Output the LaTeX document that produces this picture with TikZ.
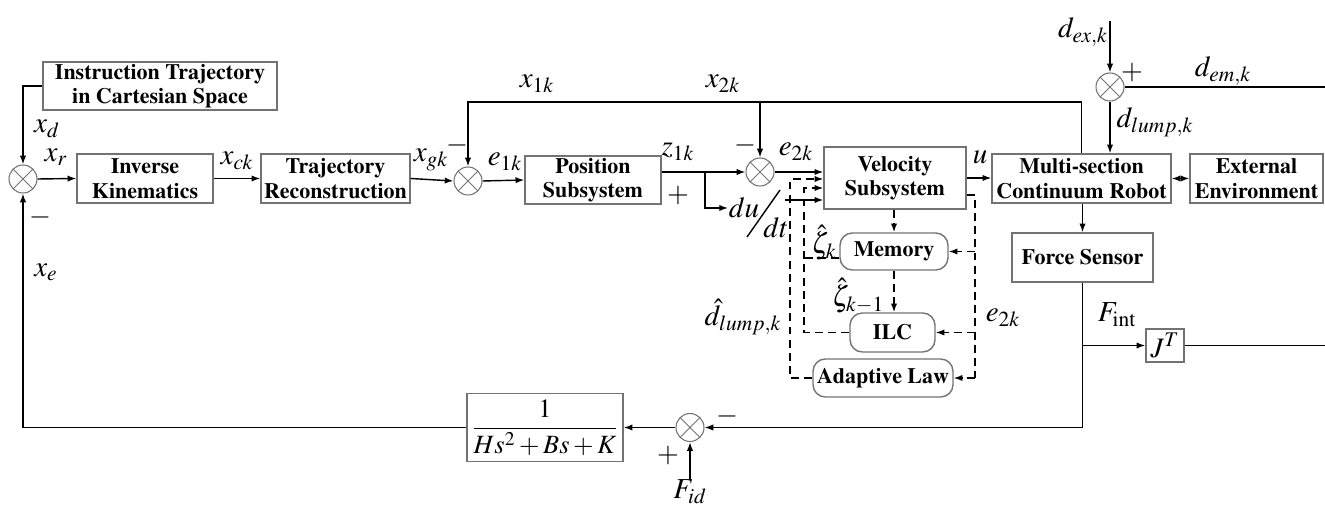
\documentclass[tikz,border=0pt]{standalone}
\usepackage[T1]{fontenc}
\usepackage{mathptmx}
\usetikzlibrary{arrows.meta}
\begin{document}
\begin{tikzpicture}[x=0.02cm,y=-0.02cm,
  line width=0.8pt,
  arr/.style={-{Latex[length=5pt,width=3.6pt]}},
  arr2/.style={{Latex[length=5pt,width=3.6pt]}-{Latex[length=5pt,width=3.6pt]}},
  darr/.style={dashed,dash pattern=on 4.5pt off 3pt,-{Latex[length=5pt,width=3.6pt]}},
  dsh/.style={dashed,dash pattern=on 4.5pt off 3pt},
  blk/.style={draw=black!55, line width=0.8pt, inner sep=0pt, align=center,
    font=\fontfamily{ptm}\bfseries\fontsize{12.5}{14}\selectfont},
  rblk/.style={blk, rounded corners=7pt},
  sum/.style={circle, draw=black!55, line width=0.6pt, minimum size=0.56cm, inner sep=0pt,
    path picture={\draw[black!55, line width=0.5pt]
      (path picture bounding box.north west) -- (path picture bounding box.south east)
      (path picture bounding box.north east) -- (path picture bounding box.south west);}},
  lbl/.style={inner sep=0pt, font=\fontsize{16.5}{18}\selectfont},
  sgn/.style={inner sep=0pt, font=\fontsize{16}{18}\selectfont}
]
\useasboundingbox (0,0) rectangle (1325,509);

% blocks
\node[blk, minimum width=4.68cm, minimum height=0.96cm] (instr) at (160,86) {Instruction Trajectory\\in Cartesian Space};
\node[blk, minimum width=2.72cm, minimum height=0.98cm] (ik) at (145,178.5) {Inverse\\Kinematics};
\node[blk, minimum width=2.98cm, minimum height=0.98cm] (tr) at (335.5,178.5) {Trajectory\\Reconstruction};
\node[blk, minimum width=2.72cm, minimum height=0.96cm] (pos) at (593,180) {Position\\Subsystem};
\node[blk, minimum width=2.84cm, minimum height=1.24cm] (vel) at (895,178) {Velocity\\Subsystem};
\node[rblk, minimum width=2.16cm, minimum height=0.74cm] (mem) at (894,251.5) {Memory};
\node[rblk, minimum width=1.70cm, minimum height=0.78cm] (ilc) at (892.5,332.5) {ILC};
\node[rblk, minimum width=2.80cm, minimum height=0.76cm] (ada) at (883,378) {Adaptive Law};
\node[blk, minimum width=3.58cm, minimum height=0.98cm] (robot) at (1081.5,178.5) {Multi-section\\Continuum Robot};
\node[blk, minimum width=2.66cm, minimum height=0.98cm] (env) at (1256.5,178.5) {External\\Environment};
\node[blk, minimum width=2.82cm, minimum height=0.98cm] (force) at (1082.5,257.5) {Force Sensor};
\node[blk, minimum width=0.76cm, minimum height=0.66cm, font=\fontsize{16}{18}\selectfont] (jt) at (1165,345.5) {$J^{T}$};
\node[blk, minimum width=3.12cm, minimum height=1.36cm, font=\fontsize{15}{18}\selectfont] (tf) at (545,427.5) {$\displaystyle\frac{1}{Hs^{2}+Bs+K}$};

% junctions
\node[sum] (s1) at (23,179) {};
\node[sum] (s2) at (468,181) {};
\node[sum] (s3) at (760,172) {};
\node[sum] (s4) at (1110,87) {};
\node[sum] (s5) at (690,427.5) {};

% helper coordinates
\coordinate (t1) at (468,102);
\coordinate (t2) at (760,102);
\coordinate (br) at (705,172);
\coordinate (dto) at (785,200);
\coordinate (o1) at (790,378);
\coordinate (o2) at (790,179);
\coordinate (i1) at (804,332.5);
\coordinate (i2) at (804,188);
\coordinate (m1) at (804,258);
\coordinate (r0) at (975,195);
\coordinate (r1) at (975,378);
\coordinate (dex) at (1110,21);
\coordinate (dem) at (1325,87);
\coordinate (jend) at (1325,345.5);

% labels
\node[lbl] (xd) at (47,129) {$x_{d}$};
\node[lbl] (xr) at (56,157) {$x_{r}$};
\node[sgn] (m1s) at (40,217) {$-$};
\node[lbl] (xe) at (46,272) {$x_{e}$};
\node[lbl] (xck) at (237,161) {$x_{ck}$};
\node[lbl] (xgk) at (431,160) {$x_{gk}$};
\node[sgn] (m2s) at (457,145) {$-$};
\node[lbl] (e1k) at (505,162) {$e_{1k}$};
\node[lbl] (x1k) at (537,84) {$x_{1k}$};
\node[lbl] (x2k) at (723,84) {$x_{2k}$};
\node[lbl] (z1k) at (678,152) {$z_{1k}$};
\node[sgn] (p1s) at (678,195) {$+$};
\node[sgn] (m3s) at (745,145) {$-$};
\node[lbl] (e2k) at (796,152) {$e_{2k}$};
\node[lbl] (du) at (744,208) {$du$};
\node[lbl] (dt) at (776,228) {$dt$};
\node[lbl] (u) at (980,157) {$u$};
\node[lbl] (zk) at (824,243) {$\hat{\zeta}_{k}$};
\node[lbl] (zk1) at (858,296) {$\hat{\zeta}_{k-1}$};
\node[lbl] (dlh) at (743,317) {$\hat{d}_{lump,k}$};
\node[lbl] (e2kr) at (1003,318) {$e_{2k}$};
\node[lbl] (fint) at (1117,315) {$F_{\mathrm{int}}$};
\node[lbl] (dexl) at (1083,32) {$d_{ex,k}$};
\node[sgn] (p4s) at (1132,72) {$+$};
\node[lbl] (deml) at (1223,71) {$d_{em,k}$};
\node[lbl] (dll) at (1155,122) {$d_{lump,k}$};
\node[sgn] (m5s) at (727,416) {$-$};
\node[sgn] (p5s) at (668,455) {$+$};
\node[lbl] (fid) at (690,492) {$F_{id}$};

% derivative slash
\draw[line width=0.8pt] (747,237) -- (780,190);

% main path
\draw[arr] (instr.west) -| (s1.north);
\draw[arr] (s1.east) -- (ik.west);
\draw[arr] (ik.east) -- (tr.west);
\draw[arr] (tr.east) -- (s2.west);
\draw[arr] (s2.east) -- (pos.west);
\draw[arr] (pos.east |- br) -- (s3.west);
\draw[arr] (br) |- (du.west);
\draw[arr] (dto) -- (dto -| vel.west);
\draw[arr] (s3.east) -- (s3.east -| vel.west);
\draw[arr] (vel.east) -- (vel.east -| robot.west);
\draw[arr2] (robot.east) -- (env.west);

% position/velocity feedback
\draw[arr] (robot.north) |- (t1) -- (s2.north);
\draw[arr] (t2) -- (s3.north);

% disturbances
\draw[arr] (dex) -- (s4.north);
\draw[arr] (s4.south) -- (s4.south |- robot.north);
\draw (s4.east) -- (dem);

% force loop
\draw[arr] (force.north |- robot.south) -- (force.north);
\draw[arr] (force.south) |- (s5.east);
\draw[arr] (force.south |- jt.west) -- (jt.west);
\draw (jt.east) -- (jend);
\draw[arr] (s5.west) -- (tf.east);
\draw[arr] (tf.west) -| (s1.south);
\draw[arr] (fid.north) -- (s5.south);

% learning / adaptive dashed paths
\draw[darr] (ada.west) -- (o1) -- (o2) -- (o2 -| vel.west);
\draw[darr] (ilc.west) -- (i1) -- (i2) -- (i2 -| vel.west);
\draw[dsh] (mem.west |- m1) -- (m1);
\draw[darr] (vel.south -| mem.north) -- (mem.north);
\draw[darr] (mem.south) -- (mem.south |- ilc.north);
\draw[dsh] (vel.east |- r0) -- (r0) -- (r1);
\draw[darr] (r1) -- (ada.east);
\draw[darr] (r0 |- mem.east) -- (mem.east);
\draw[darr] (r0 |- ilc.east) -- (ilc.east);
\end{tikzpicture}
\end{document}
